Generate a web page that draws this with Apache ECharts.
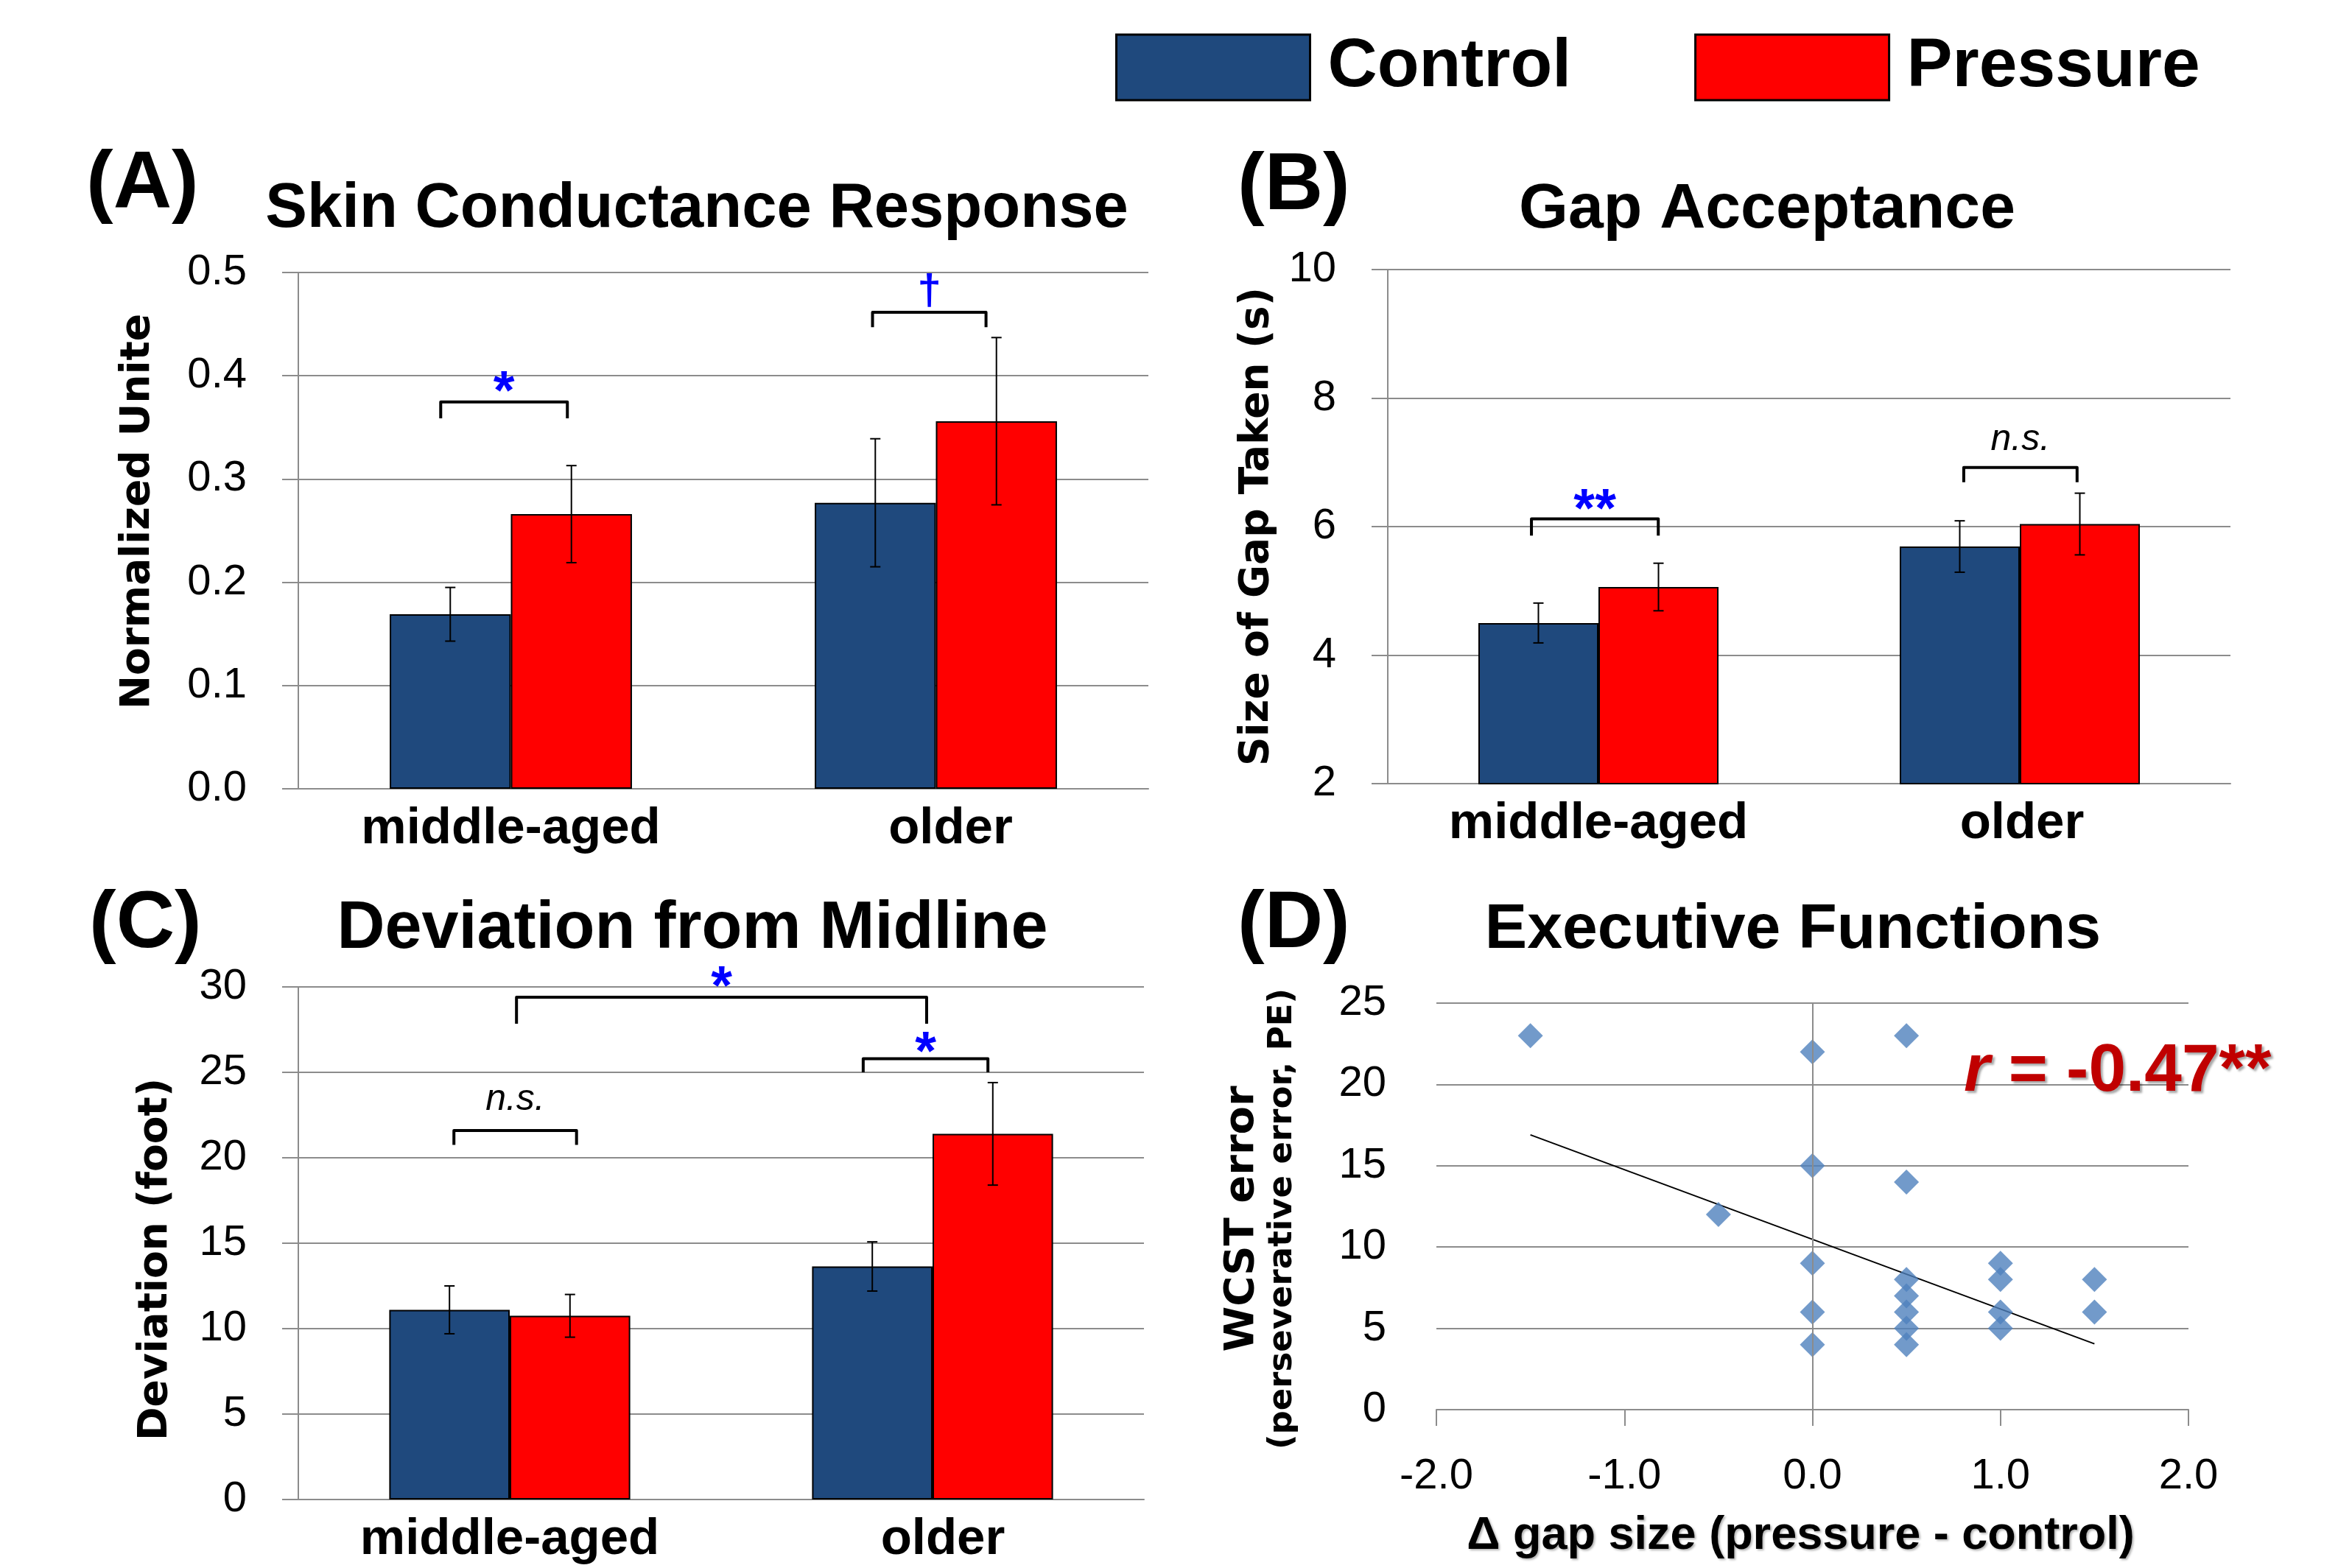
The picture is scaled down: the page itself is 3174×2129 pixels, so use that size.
<!DOCTYPE html>
<html><head><meta charset="utf-8">
<script src="https://cdn.jsdelivr.net/npm/echarts@6.0.0/dist/echarts.min.js"></script>
<style>html,body{margin:0;padding:0;background:#fff}#c{width:3174px;height:2129px}</style>
</head><body><div id="c"></div>
<script>
// ---------- data ----------
const categories = ['middle-aged', 'older'];
const seriesNames = ['Control', 'Pressure'];

// (A) Skin Conductance Response
const scrControl = [0.169, 0.277];
const scrControlErr = [0.026, 0.062];
const scrPressure = [0.266, 0.356];
const scrPressureErr = [0.047, 0.081];
const scrTicks = [0, 0.5, 0.1];

// (B) Gap Acceptance
const gapControl = [4.50, 5.69];
const gapControlErr = [0.31, 0.40];
const gapPressure = [5.06, 6.04];
const gapPressureErr = [0.37, 0.48];
const gapTicks = [2, 10, 2];

// (C) Deviation from Midline
const devControl = [11.1, 13.64];
const devControlErr = [1.4, 1.44];
const devPressure = [10.75, 21.4];
const devPressureErr = [1.25, 3.0];
const devTicks = [0, 30, 5];

// (D) Executive Functions scatter
const dGap  = [-1.5, 0, 0.5, 0, 0.5, -0.5, 0, 0, 0, 0.5, 0.5, 0.5, 0.5, 0.5, 1, 1, 1, 1, 1.5, 1.5];
const dWcst = [23, 22, 23, 15, 14, 12, 9, 6, 4, 8, 7, 6, 5, 4, 9, 8, 6, 5, 8, 6];
const trendX = [-1.5, 1.5];
const trendY = [16.9, 4.05];
const dXTicks = [-2, 2, 1];
const dYTicks = [0, 25, 5];

// significance brackets: [category, offset in bands] ends, top value, leg value, mark, mark value
const scrSig = [
  { a: [0, -0.165], b: [0, 0.133], top: 0.3747, leg: 0.3587, mark: '*', markY: 0.395 },
  { a: [1, -0.149], b: [1, 0.118], top: 0.4615, leg: 0.447, mark: '†', markY: 0.482 }
];
const gapSig = [
  { a: [0, -0.159], b: [0, 0.142], top: 6.12, leg: 5.86, mark: '**', markY: 6.43 },
  { a: [1, -0.133], b: [1, 0.136], top: 6.92, leg: 6.69, mark: 'n.s.', markY: 7.29 }
];
const devSig = [
  { a: [0, -0.132], b: [0, 0.158], top: 21.6, leg: 20.75, mark: 'n.s.', markY: 23.2 },
  { a: [1, -0.164], b: [1, 0.131], top: 25.8, leg: 25.0, mark: '*', markY: 26.8 },
  { a: [0, 0.016], b: [1, -0.014], top: 29.4, leg: 27.84, mark: '*', markY: 30.6 }
];

// ---------- styling ----------
const FONT = "'Liberation Sans', Arial, sans-serif";
const DV = "'DejaVu Sans', sans-serif";
const CTRL = '#1F497D';
const PRES = '#FF0000';
const GRIDC = '#8C8C8C';
const BAR_OFF = 0.1425;

const chart = echarts.init(document.getElementById('c'), null, { renderer: 'canvas' });

function errSeries(idx, vals, errs, sign) {
  return {
    type: 'custom', xAxisIndex: idx, yAxisIndex: idx, z: 5, clip: false, silent: true,
    data: vals.map((v, i) => [i, v, errs[i]]),
    renderItem: function (params, api) {
      const cat = api.value(0), v = api.value(1), e = api.value(2);
      const band = api.size([1, 0])[0];
      const x = api.coord([cat, v])[0] + sign * BAR_OFF * band;
      const yT = api.coord([cat, v + e])[1];
      const yB = api.coord([cat, v - e])[1];
      const st = { stroke: '#000', lineWidth: 2 };
      return { type: 'group', children: [
        { type: 'line', shape: { x1: x, y1: yT, x2: x, y2: yB }, style: st },
        { type: 'line', shape: { x1: x - 7, y1: yT, x2: x + 7, y2: yT }, style: st },
        { type: 'line', shape: { x1: x - 7, y1: yB, x2: x + 7, y2: yB }, style: st }
      ]};
    }
  };
}

function sigSeries(idx, sig) {
  return {
    type: 'custom', xAxisIndex: idx, yAxisIndex: idx, z: 6, clip: false, silent: true,
    data: sig.map((s) => [s.a[0], s.top]),
    renderItem: function (params, api) {
      const s = sig[params.dataIndex];
      const band = api.size([1, 0])[0];
      const xa = api.coord([s.a[0], s.top])[0] + s.a[1] * band;
      const xb = api.coord([s.b[0], s.top])[0] + s.b[1] * band;
      const yT = api.coord([0, s.top])[1];
      const yL = api.coord([0, s.leg])[1];
      const yM = api.coord([0, s.markY])[1];
      let style, yMo;
      if (s.mark === 'n.s.') {
        style = { text: s.mark, fill: '#000', fontSize: 50, fontStyle: 'italic', fontFamily: FONT, align: 'center', verticalAlign: 'middle' };
        yMo = yM - 5;
      } else if (s.mark === '†') {
        style = { text: s.mark, fill: '#0000FF', fontSize: 58, fontWeight: 'bold', fontFamily: FONT, align: 'center', verticalAlign: 'middle' };
        yMo = yM + 2;
      } else {
        style = { text: s.mark, fill: '#0000FF', fontSize: 74, fontWeight: 'bold', fontFamily: FONT, align: 'center', verticalAlign: 'middle' };
        yMo = yM + 17;
      }
      style.x = (xa + xb) / 2; style.y = yMo;
      return { type: 'group', children: [
        { type: 'polyline', shape: { points: [[xa, yL], [xa, yT], [xb, yT], [xb, yL]] },
          style: { stroke: '#000', lineWidth: 4, fill: null, lineJoin: 'round' } },
        { type: 'text', style: style }
      ]};
    }
  };
}

function barSeries(idx, ctrl, pres) {
  return [
    { type: 'bar', name: seriesNames[0], xAxisIndex: idx, yAxisIndex: idx, data: ctrl,
      barGap: '0%', barCategoryGap: '43%', itemStyle: { color: CTRL, borderColor: '#000', borderWidth: 2 } },
    { type: 'bar', name: seriesNames[1], xAxisIndex: idx, yAxisIndex: idx, data: pres,
      barGap: '0%', barCategoryGap: '43%', itemStyle: { color: PRES, borderColor: '#000', borderWidth: 2 } }
  ];
}

function catAxis(idx, olderShift) {
  const lab = { fontSize: 69, fontWeight: 'bold', color: '#000', fontFamily: FONT };
  return {
    type: 'category', gridIndex: idx, data: categories,
    axisLine: { lineStyle: { color: GRIDC, width: 2 } },
    axisTick: { show: false },
    axisLabel: { margin: 20, color: '#000',
      formatter: (v, i) => (i === 1 ? '{o|' + v + '}' : '{m|' + v + '}'),
      rich: { m: lab, o: Object.assign({ padding: [0, 0, 0, olderShift] }, lab) } }
  };
}

function valAxis(idx, ticks, name, gap, pad, fmt) {
  return {
    type: 'value', gridIndex: idx, min: ticks[0], max: ticks[1], interval: ticks[2],
    name: name, nameLocation: 'middle', nameRotate: 90, nameGap: gap,
    nameTextStyle: { fontSize: 55, fontWeight: 'bold', fontFamily: DV, color: '#000', padding: pad },
    axisLine: { show: true, onZero: false, lineStyle: { color: GRIDC, width: 2 } },
    axisTick: { show: true, length: 22, lineStyle: { color: GRIDC, width: 2 } },
    splitLine: { show: true, lineStyle: { color: GRIDC, width: 2 } },
    axisLabel: { fontSize: 58, color: '#000', margin: 70, fontFamily: FONT, formatter: fmt }
  };
}

function t(text, left, top, size, extra) {
  return Object.assign({ text: text, left: left, top: top, padding: 0,
    textStyle: { fontSize: size, fontWeight: 'bold', color: '#000', fontFamily: FONT, lineHeight: size } }, extra || {});
}

const shadow = { textShadowColor: 'rgba(0,0,0,0.35)', textShadowOffsetX: 3, textShadowOffsetY: 3, textShadowBlur: 3 };

const option = {
  animation: false,
  backgroundColor: '#ffffff',
  textStyle: { fontFamily: FONT },
  legend: {
    data: seriesNames, left: 1514, top: 45, padding: 0, itemWidth: 263, itemHeight: 89, itemGap: 167,
    icon: 'rect', selectedMode: false,
    itemStyle: { borderColor: '#000', borderWidth: 3 },
    textStyle: { fontSize: 93, fontWeight: 'bold', color: '#000', fontFamily: FONT, padding: [0, 0, 0, 19] }
  },
  title: [
    t('(A)', 117, 196, 110),
    t('Skin Conductance Response', 946, 242, 85, { textAlign: 'center' }),
    t('(B)', 1680, 199, 110),
    t('Gap Acceptance', 2399, 242, 86, { textAlign: 'center' }),
    t('(C)', 121, 1201, 110),
    t('Deviation from Midline', 940, 1217, 90, { textAlign: 'center' }),
    t('(D)', 1680, 1201, 110),
    t('Executive Functions', 2434, 1220, 86, { textAlign: 'center' }),
    { text: '{i|r}{n| = -0.47**}', left: 2666, top: 1410, padding: 0,
      textStyle: { rich: {
        i: Object.assign({ fontSize: 91, fontWeight: 'bold', fontStyle: 'italic', color: '#C00000', fontFamily: FONT, lineHeight: 91 }, shadow),
        n: Object.assign({ fontSize: 91, fontWeight: 'bold', color: '#C00000', fontFamily: FONT, lineHeight: 91 }, shadow)
      } } }
  ],
  grid: [
    { left: 405, top: 370, width: 1154, height: 701 },
    { left: 1884, top: 366, width: 1144, height: 698 },
    { left: 405, top: 1340, width: 1148, height: 696 },
    { left: 1950, top: 1362, width: 1021, height: 552 }
  ],
  xAxis: [
    catAxis(0, 40), catAxis(1, 6), catAxis(2, 28),
    { type: 'value', gridIndex: 3, min: dXTicks[0], max: dXTicks[1], interval: dXTicks[2],
      name: 'Δ gap size (pressure - control)', nameLocation: 'middle', nameGap: 140,
      nameTextStyle: { fontSize: 63, fontWeight: 'bold', color: '#000', fontFamily: FONT, padding: [0, 32, 0, 0],
        textShadowColor: 'rgba(0,0,0,0.3)', textShadowOffsetX: 2, textShadowOffsetY: 2, textShadowBlur: 3 },
      axisLine: { show: true, lineStyle: { color: GRIDC, width: 2 } },
      axisTick: { show: true, length: 22, lineStyle: { color: GRIDC, width: 2 } },
      splitLine: { show: false },
      axisLabel: { fontSize: 58, color: '#000', margin: 62, fontFamily: FONT, formatter: v => v.toFixed(1) } }
  ],
  yAxis: [
    valAxis(0, scrTicks, 'Normalized Unite', 190, [0, 0, 0, 52], v => v.toFixed(1)),
    valAxis(1, gapTicks, 'Size of Gap Taken (s)', 150, [0, 0, 0, 0], v => String(v)),
    valAxis(2, devTicks, 'Deviation (foot)', 166, [0, 44, 0, 0], v => String(v)),
    { type: 'value', gridIndex: 3, min: dYTicks[0], max: dYTicks[1], interval: dYTicks[2],
      name: '{a|WCST error}\n{b|(perseverative error, PE)}', nameLocation: 'middle', nameRotate: 90, nameGap: 183,
      nameTextStyle: { padding: [0, 34, 0, 0], rich: {
        a: { fontSize: 56, fontWeight: 'bold', fontFamily: DV, color: '#000', lineHeight: 58 },
        b: { fontSize: 45, fontWeight: 'bold', fontFamily: DV, color: '#000', lineHeight: 52 } } },
      axisLine: { show: false, onZero: false },
      axisTick: { show: false },
      splitLine: { show: true, lineStyle: { color: GRIDC, width: 2 } },
      axisLabel: { fontSize: 58, color: '#000', margin: 68, fontFamily: FONT } }
  ],
  series: [
    ...barSeries(0, scrControl, scrPressure),
    errSeries(0, scrControl, scrControlErr, -1),
    errSeries(0, scrPressure, scrPressureErr, 1),
    sigSeries(0, scrSig),
    ...barSeries(1, gapControl, gapPressure),
    errSeries(1, gapControl, gapControlErr, -1),
    errSeries(1, gapPressure, gapPressureErr, 1),
    sigSeries(1, gapSig),
    ...barSeries(2, devControl, devPressure),
    errSeries(2, devControl, devControlErr, -1),
    errSeries(2, devPressure, devPressureErr, 1),
    sigSeries(2, devSig),
    { type: 'line', xAxisIndex: 3, yAxisIndex: 3, z: 3, silent: true,
      data: trendX.map((x, i) => [x, trendY[i]]), symbol: 'none',
      lineStyle: { color: '#000', width: 2 },
      markLine: { silent: true, symbol: 'none', label: { show: false },
        lineStyle: { color: GRIDC, width: 2, type: 'solid' }, data: [{ xAxis: 0 }] } },
    { type: 'scatter', xAxisIndex: 3, yAxisIndex: 3, z: 4,
      data: dGap.map((x, i) => [x, dWcst[i]]), symbol: 'diamond', symbolSize: 34,
      itemStyle: { color: '#4F81BD' } }
  ]
};
chart.setOption(option);
</script>
</body></html>
